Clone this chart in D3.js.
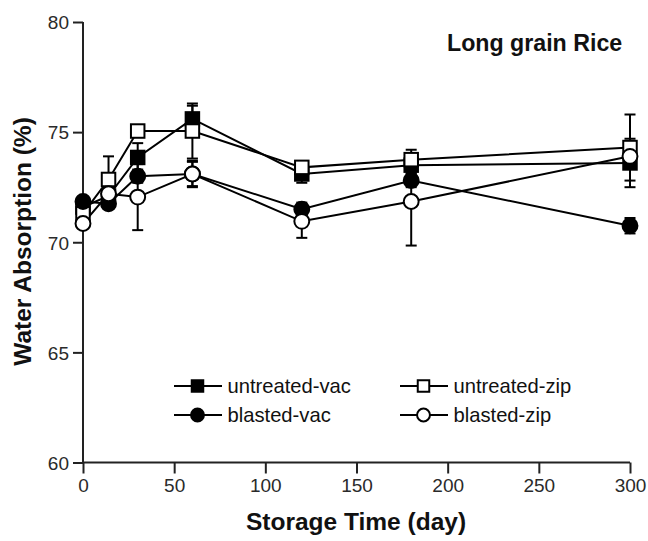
<!DOCTYPE html>
<html><head><meta charset="utf-8">
<script src="https://cdn.jsdelivr.net/npm/d3@7"></script>
<style>
html,body{margin:0;padding:0;background:#fff;}
svg{display:block;font-family:"Liberation Sans",Arial,Helvetica,sans-serif;}
</style></head>
<body><svg id="chart" width="648" height="541"></svg>
<script>
const days = [0, 14, 30, 60, 120, 180, 300];
const untreatedVac = [71.6, 72.1, 73.85, 75.6, 73.1, 73.5, 73.6];
const untreatedVacErr = [0.2, 0.2, 0.65, 0.6, 0.4, 0.35, 1.1];
const untreatedZip = [71.3, 72.85, 75.05, 75.05, 73.4, 73.75, 74.3];
const untreatedZipErr = [0.2, 1.05, 0.2, 1.25, 0.2, 0.45, 1.5];
const blastedVac = [71.85, 71.75, 73.0, 73.1, 71.5, 72.8, 70.75];
const blastedVacErr = [0.2, 0.2, 0.3, 0.55, 0.3, 0.3, 0.35];
const blastedZip = [70.85, 72.2, 72.05, 73.1, 70.95, 71.85, 73.9];
const blastedZipErr = [0.2, 0.3, 1.5, 0.6, 0.75, 2.0, 0.25];
const xTicks = [0, 50, 100, 150, 200, 250, 300];
const yTicks = [60, 65, 70, 75, 80];
const seriesNames = ["untreated-vac", "untreated-zip", "blasted-vac", "blasted-zip"];
const chartTitle = "Long grain Rice";
const xTitle = "Storage Time (day)";
const yTitle = "Water Absorption (%)";

const series = [
  {name: seriesNames[0], vals: untreatedVac, err: untreatedVacErr, shape: "square", fill: "#000"},
  {name: seriesNames[1], vals: untreatedZip, err: untreatedZipErr, shape: "square", fill: "#fff"},
  {name: seriesNames[2], vals: blastedVac, err: blastedVacErr, shape: "circle", fill: "#000"},
  {name: seriesNames[3], vals: blastedZip, err: blastedZipErr, shape: "circle", fill: "#fff"}
];

const svg = d3.select("#chart");
const x = d3.scaleLinear().domain([0, 300]).range([83, 630]);
const y = d3.scaleLinear().domain([60, 80]).range([462.5, 22]);

// axes
const xAxis = svg.append("g").attr("transform", `translate(0,${y(60)})`)
  .call(d3.axisBottom(x).tickValues(xTicks).tickSize(11).tickPadding(4).tickFormat(d3.format("d")));
const yAxis = svg.append("g").attr("transform", `translate(${x(0)},0)`)
  .call(d3.axisLeft(y).tickValues(yTicks).tickSize(10).tickPadding(4).tickFormat(d3.format("d")));
[xAxis, yAxis].forEach(a => {
  a.select(".domain").attr("stroke", "#222").attr("stroke-width", 2);
  a.selectAll(".tick line").attr("stroke", "#222").attr("stroke-width", 2);
  a.selectAll(".tick text").attr("fill", "#2a2a2a").attr("font-size", 19)
    .attr("font-family", "'Liberation Sans',Arial,sans-serif");
});
xAxis.select(".domain").attr("d", `M${x(0)},0H${x(300)}`);
xAxis.selectAll(".tick line").attr("y2", 11);
xAxis.selectAll(".tick text").attr("dy", null).attr("y", 29);
yAxis.select(".domain").attr("d", `M0,${y(80)}V${y(60)}`);
yAxis.selectAll(".tick text").attr("dy", "0.36em");

// error bars
const capW = 5.5;
series.forEach(s => {
  const g = svg.append("g").attr("stroke", "#000").attr("stroke-width", 2).attr("fill", "none");
  days.forEach((d, i) => {
    const cx = x(d), lo = y(s.vals[i] - s.err[i]), hi = y(s.vals[i] + s.err[i]);
    g.append("line").attr("x1", cx).attr("x2", cx).attr("y1", lo).attr("y2", hi);
    g.append("line").attr("x1", cx - capW).attr("x2", cx + capW).attr("y1", lo).attr("y2", lo);
    g.append("line").attr("x1", cx - capW).attr("x2", cx + capW).attr("y1", hi).attr("y2", hi);
  });
});

// lines
const line = d3.line().x((d, i) => x(days[i])).y(d => y(d));
series.forEach(s => {
  svg.append("path").attr("d", line(s.vals)).attr("fill", "none")
    .attr("stroke", "#000").attr("stroke-width", 2);
});

function marker(g, shape, cx, cy, fill, size) {
  if (shape === "square") {
    g.append("rect").attr("x", cx - size / 2).attr("y", cy - size / 2)
      .attr("width", size).attr("height", size)
      .attr("fill", fill).attr("stroke", "#000").attr("stroke-width", 2);
  } else {
    g.append("circle").attr("cx", cx).attr("cy", cy).attr("r", size / 2 + 0.7)
      .attr("fill", fill).attr("stroke", "#000").attr("stroke-width", 2);
  }
}

// markers
series.forEach(s => {
  const g = svg.append("g");
  days.forEach((d, i) => marker(g, s.shape, x(d), y(s.vals[i]), s.fill, 13.5));
});

// legend
const legPos = [[174, 386], [400, 386], [174, 415], [400, 415]];
series.forEach((s, i) => {
  const [lx, ly] = legPos[i];
  const g = svg.append("g");
  g.append("line").attr("x1", lx).attr("x2", lx + 48).attr("y1", ly).attr("y2", ly)
    .attr("stroke", "#000").attr("stroke-width", 2);
  marker(g, s.shape, lx + 23.5, ly, s.fill, 11.5);
  g.append("text").attr("x", lx + 53.5).attr("y", ly + 7).attr("font-size", 20.2)
    .attr("fill", "#111").text(s.name);
});

// titles
svg.append("text").attr("x", 447).attr("y", 51).attr("font-size", 23.2)
  .attr("font-weight", "bold").attr("fill", "#111").text(chartTitle);
svg.append("text").attr("x", 356).attr("y", 530).attr("text-anchor", "middle")
  .attr("font-size", 24.5).attr("font-weight", "bold").attr("fill", "#111").text(xTitle);
svg.append("text").attr("transform", "translate(31,241.5) rotate(-90)")
  .attr("text-anchor", "middle").attr("font-size", 24.5).attr("font-weight", "bold")
  .attr("fill", "#111").text(yTitle);
</script></body></html>
